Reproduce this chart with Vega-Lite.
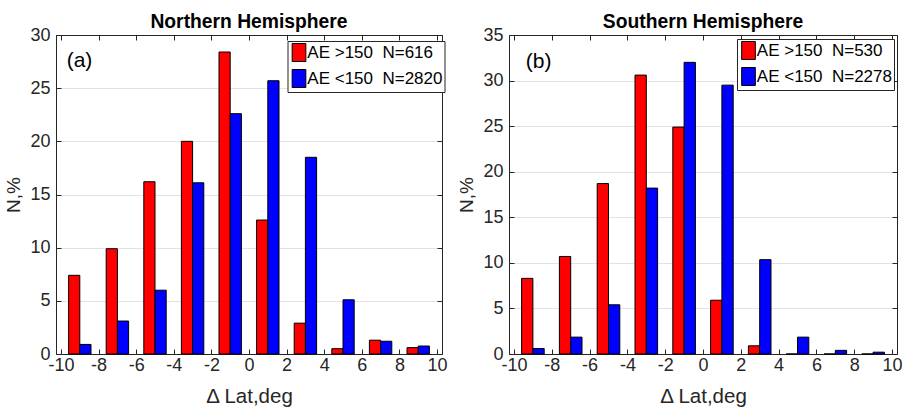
{
  "$schema": "https://vega.github.io/schema/vega-lite/v6.json",
  "padding": {"left": 4, "top": 12, "right": 0, "bottom": 0},
  "spacing": 9,
  "config": {
    "font": "Liberation Sans",
    "view": {"stroke": "#262626", "strokeWidth": 1},
    "axis": {
      "domainColor": "#262626", "tickColor": "#262626", "labelColor": "#262626", "titleColor": "#262626",
      "labelFontSize": 18, "titleFontSize": 19, "titleFontWeight": "normal",
      "gridColor": "#e3e3e3", "labelFlush": false, "labelOverlap": false,
      "labelExpr": "replace(datum.label, '\u2212', '-')"
    },
    "title": {"fontSize": 19.3, "fontWeight": "bold", "color": "#000000", "offset": -6},
    "legend": {
      "fillColor": "#ffffff", "strokeColor": "#262626", "padding": 2, "rowPadding": 3,
      "labelFontSize": 17, "labelColor": "#000000", "labelOffset": -1.2,
      "symbolType": "M-0.76,-1H0.76V1H-0.76Z", "symbolSize": 324,
      "symbolStrokeColor": "#000000", "symbolStrokeWidth": 1, "symbolOpacity": 1
    }
  },
  "datasets": {
    "north": [
      {"ae": "high", "series": "AE >150\u00a0\u00a0N=616", "lat": -9, "pct": 7.4},
      {"ae": "high", "series": "AE >150\u00a0\u00a0N=616", "lat": -7, "pct": 9.9},
      {"ae": "high", "series": "AE >150\u00a0\u00a0N=616", "lat": -5, "pct": 16.2},
      {"ae": "high", "series": "AE >150\u00a0\u00a0N=616", "lat": -3, "pct": 20.0},
      {"ae": "high", "series": "AE >150\u00a0\u00a0N=616", "lat": -1, "pct": 28.4},
      {"ae": "high", "series": "AE >150\u00a0\u00a0N=616", "lat": 1, "pct": 12.6},
      {"ae": "high", "series": "AE >150\u00a0\u00a0N=616", "lat": 3, "pct": 2.9},
      {"ae": "high", "series": "AE >150\u00a0\u00a0N=616", "lat": 5, "pct": 0.5},
      {"ae": "high", "series": "AE >150\u00a0\u00a0N=616", "lat": 7, "pct": 1.3},
      {"ae": "high", "series": "AE >150\u00a0\u00a0N=616", "lat": 9, "pct": 0.6},
      {"ae": "low", "series": "AE <150\u00a0\u00a0N=2820", "lat": -9, "pct": 0.9},
      {"ae": "low", "series": "AE <150\u00a0\u00a0N=2820", "lat": -7, "pct": 3.1},
      {"ae": "low", "series": "AE <150\u00a0\u00a0N=2820", "lat": -5, "pct": 6.0},
      {"ae": "low", "series": "AE <150\u00a0\u00a0N=2820", "lat": -3, "pct": 16.1},
      {"ae": "low", "series": "AE <150\u00a0\u00a0N=2820", "lat": -1, "pct": 22.6},
      {"ae": "low", "series": "AE <150\u00a0\u00a0N=2820", "lat": 1, "pct": 25.7},
      {"ae": "low", "series": "AE <150\u00a0\u00a0N=2820", "lat": 3, "pct": 18.5},
      {"ae": "low", "series": "AE <150\u00a0\u00a0N=2820", "lat": 5, "pct": 5.1},
      {"ae": "low", "series": "AE <150\u00a0\u00a0N=2820", "lat": 7, "pct": 1.2},
      {"ae": "low", "series": "AE <150\u00a0\u00a0N=2820", "lat": 9, "pct": 0.75}
    ],
    "south": [
      {"ae": "high", "series": "AE >150\u00a0\u00a0N=530", "lat": -9, "pct": 8.3},
      {"ae": "high", "series": "AE >150\u00a0\u00a0N=530", "lat": -7, "pct": 10.7},
      {"ae": "high", "series": "AE >150\u00a0\u00a0N=530", "lat": -5, "pct": 18.7},
      {"ae": "high", "series": "AE >150\u00a0\u00a0N=530", "lat": -3, "pct": 30.6},
      {"ae": "high", "series": "AE >150\u00a0\u00a0N=530", "lat": -1, "pct": 24.9},
      {"ae": "high", "series": "AE >150\u00a0\u00a0N=530", "lat": 1, "pct": 5.9},
      {"ae": "high", "series": "AE >150\u00a0\u00a0N=530", "lat": 3, "pct": 0.9},
      {"ae": "high", "series": "AE >150\u00a0\u00a0N=530", "lat": 5, "pct": 0},
      {"ae": "high", "series": "AE >150\u00a0\u00a0N=530", "lat": 7, "pct": 0},
      {"ae": "high", "series": "AE >150\u00a0\u00a0N=530", "lat": 9, "pct": 0},
      {"ae": "low", "series": "AE <150\u00a0\u00a0N=2278", "lat": -9, "pct": 0.6},
      {"ae": "low", "series": "AE <150\u00a0\u00a0N=2278", "lat": -7, "pct": 1.85},
      {"ae": "low", "series": "AE <150\u00a0\u00a0N=2278", "lat": -5, "pct": 5.4},
      {"ae": "low", "series": "AE <150\u00a0\u00a0N=2278", "lat": -3, "pct": 18.2},
      {"ae": "low", "series": "AE <150\u00a0\u00a0N=2278", "lat": -1, "pct": 32.0},
      {"ae": "low", "series": "AE <150\u00a0\u00a0N=2278", "lat": 1, "pct": 29.5},
      {"ae": "low", "series": "AE <150\u00a0\u00a0N=2278", "lat": 3, "pct": 10.35},
      {"ae": "low", "series": "AE <150\u00a0\u00a0N=2278", "lat": 5, "pct": 1.85},
      {"ae": "low", "series": "AE <150\u00a0\u00a0N=2278", "lat": 7, "pct": 0.4},
      {"ae": "low", "series": "AE <150\u00a0\u00a0N=2278", "lat": 9, "pct": 0.2}
    ]
  },
  "hconcat": [
    {
      "width": 386, "height": 319,
      "title": "Northern Hemisphere",
      "data": {"name": "north"},
      "layer": [
        {
          "transform": [{"filter": "datum.ae === 'high'"}],
          "mark": {"type": "bar", "width": 11.2, "xOffset": -5.6, "stroke": "#000000", "strokeWidth": 1},
          "encoding": {
            "x": {"field": "lat", "type": "quantitative", "scale": {"domain": [-10, 10], "nice": false},
                  "axis": {"orient": "bottom", "values": [-10,-8,-6,-4,-2,0,2,4,6,8,10], "tickSize": -5, "labelPadding": 7, "grid": false, "title": "\u0394 Lat,deg", "titlePadding": 12, "titleFontSize": 20.5}},
            "y": {"field": "pct", "type": "quantitative", "scale": {"domain": [0, 30], "nice": false},
                  "axis": {"orient": "left", "values": [0,5,10,15,20,25,30], "tickSize": -5, "labelPadding": 11, "grid": true, "title": "N,%", "titlePadding": 6}},
            "color": {"field": "series", "type": "nominal",
                      "scale": {"domain": ["AE >150\u00a0\u00a0N=616", "AE <150\u00a0\u00a0N=2820"], "range": ["#ff0000", "#0000ff"]},
                      "legend": {"title": null, "orient": "none", "legendX": 231.5, "legendY": 6}}
          }
        },
        {
          "transform": [{"filter": "datum.ae === 'low'"}],
          "mark": {"type": "bar", "width": 11.2, "xOffset": 5.6, "stroke": "#000000", "strokeWidth": 1},
          "encoding": {
            "x": {"field": "lat", "type": "quantitative", "scale": {"domain": [-10, 10], "nice": false},
                  "axis": {"orient": "top", "values": [-10,-8,-6,-4,-2,0,2,4,6,8,10], "tickSize": -5, "labels": false, "grid": false, "title": null}},
            "y": {"field": "pct", "type": "quantitative", "scale": {"domain": [0, 30], "nice": false},
                  "axis": {"orient": "right", "values": [0,5,10,15,20,25,30], "tickSize": -5, "labels": false, "grid": false, "title": null}},
            "color": {"field": "series", "type": "nominal"}
          }
        },
        {
          "data": {"values": [{"label": "(a)"}]},
          "mark": {"type": "text", "align": "left", "baseline": "middle", "fontSize": 21, "color": "#000000"},
          "encoding": {
            "x": {"datum": -9.7, "type": "quantitative", "axis": null},
            "y": {"datum": 27.6, "type": "quantitative", "axis": null},
            "text": {"field": "label"}
          }
        }
      ],
      "resolve": {"axis": {"x": "independent", "y": "independent"}}
    },
    {
      "width": 388, "height": 319,
      "title": "Southern Hemisphere",
      "data": {"name": "south"},
      "layer": [
        {
          "transform": [{"filter": "datum.ae === 'high'"}],
          "mark": {"type": "bar", "width": 11.3, "xOffset": -5.65, "stroke": "#000000", "strokeWidth": 1},
          "encoding": {
            "x": {"field": "lat", "type": "quantitative", "scale": {"domain": [-10, 10], "nice": false},
                  "axis": {"orient": "bottom", "values": [-10,-8,-6,-4,-2,0,2,4,6,8,10], "tickSize": -5, "labelPadding": 7, "grid": false, "title": "\u0394 Lat,deg", "titlePadding": 12, "titleFontSize": 20.5}},
            "y": {"field": "pct", "type": "quantitative", "scale": {"domain": [0, 35], "nice": false},
                  "axis": {"orient": "left", "values": [0,5,10,15,20,25,30,35], "tickSize": -5, "labelPadding": 11, "grid": true, "title": "N,%", "titlePadding": 6}},
            "color": {"field": "series", "type": "nominal",
                      "scale": {"domain": ["AE >150\u00a0\u00a0N=530", "AE <150\u00a0\u00a0N=2278"], "range": ["#ff0000", "#0000ff"]},
                      "legend": {"title": null, "orient": "none", "legendX": 228, "legendY": 4}}
          }
        },
        {
          "transform": [{"filter": "datum.ae === 'low'"}],
          "mark": {"type": "bar", "width": 11.3, "xOffset": 5.65, "stroke": "#000000", "strokeWidth": 1},
          "encoding": {
            "x": {"field": "lat", "type": "quantitative", "scale": {"domain": [-10, 10], "nice": false},
                  "axis": {"orient": "top", "values": [-10,-8,-6,-4,-2,0,2,4,6,8,10], "tickSize": -5, "labels": false, "grid": false, "title": null}},
            "y": {"field": "pct", "type": "quantitative", "scale": {"domain": [0, 35], "nice": false},
                  "axis": {"orient": "right", "values": [0,5,10,15,20,25,30,35], "tickSize": -5, "labels": false, "grid": false, "title": null}},
            "color": {"field": "series", "type": "nominal"}
          }
        },
        {
          "data": {"values": [{"label": "(b)"}]},
          "mark": {"type": "text", "align": "left", "baseline": "middle", "fontSize": 21, "color": "#000000"},
          "encoding": {
            "x": {"datum": -9.38, "type": "quantitative", "axis": null},
            "y": {"datum": 32.07, "type": "quantitative", "axis": null},
            "text": {"field": "label"}
          }
        }
      ],
      "resolve": {"axis": {"x": "independent", "y": "independent"}}
    }
  ],
  "resolve": {"scale": {"color": "independent"}}
}
